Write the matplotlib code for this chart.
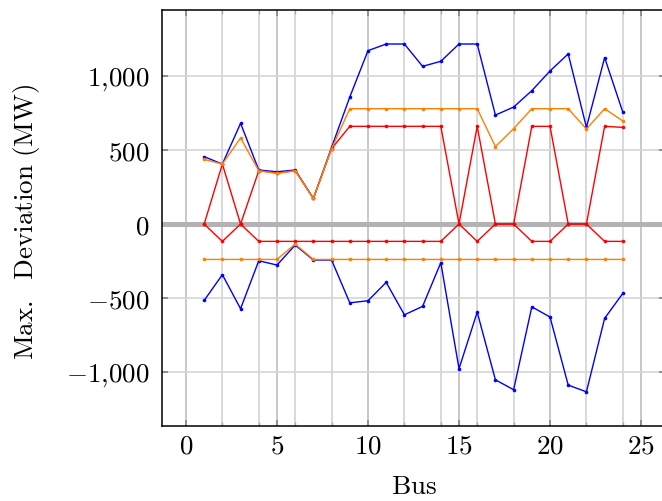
import matplotlib
matplotlib.use('Agg')
import matplotlib.pyplot as plt
from matplotlib.ticker import FixedLocator, FuncFormatter

plt.rcParams['mathtext.fontset'] = 'cm'
plt.rcParams['font.family'] = 'serif'
plt.rcParams['font.serif'] = ['DejaVu Serif']

bus = list(range(1, 25))
blue_upper = [455, 405, 680, 365, 353, 365, 173, 518, 858, 1171, 1216, 1216,
              1065, 1099, 1216, 1216, 736, 790, 901, 1034, 1149, 653, 1124, 755]
blue_lower = [-516, -342, -572, -248, -277, -142, -243, -243, -532, -518, -394, -613,
              -556, -261, -977, -595, -1052, -1119, -559, -628, -1088, -1133, -637, -468]
orange_upper = [437, 405, 581, 360, 342, 360, 173, 509, 779, 779, 779, 779,
                779, 779, 779, 779, 523, 644, 779, 779, 779, 642, 779, 696]
orange_lower = [-239, -239, -239, -239, -239, -135, -239, -239, -239, -239, -239, -239,
                -239, -239, -239, -239, -239, -239, -239, -239, -239, -239, -239, -239]
red_upper = [0, 405, 0, 360, 345, 360, 173, 509, 660, 660, 660, 660,
             660, 660, 0, 660, 0, 0, 660, 660, 0, 0, 660, 653]
red_lower = [0, -117, 0, -117, -117, -117, -117, -117, -117, -117, -117, -117,
             -117, -117, 0, -117, 0, 0, -117, -117, 0, 0, -117, -117]

major_x = [0, 5, 10, 15, 20, 25]
minor_x = [2, 4, 6, 8, 12, 14, 16, 18, 22, 24]
major_y = [-1000, -500, 0, 500, 1000]

W, H = 662, 501
fig = plt.figure(figsize=(W / 100, H / 100), dpi=100)
left_px, right_px, top_px, bot_px = 162.3, 664.7, 9.5, 426.0
ax = fig.add_axes([left_px / W, 1 - bot_px / H, (right_px - left_px) / W, (bot_px - top_px) / H])

ax.set_xlim(-1.3, 26.3)
ax.set_ylim(-1364, 1449)

blue = (0, 0, 1)
orange = (1, 0.5, 0)
red = (1, 0, 0)
kw = dict(lw=1.0, marker='o', ms=2.6, mew=0)
ax.plot(bus, blue_upper, color=blue, zorder=3, **kw)
ax.plot(bus, blue_lower, color=blue, zorder=3, **kw)
ax.plot(bus, red_upper, color=red, zorder=4, **kw)
ax.plot(bus, red_lower, color=red, zorder=4, **kw)
ax.plot(bus, orange_upper, color=orange, zorder=5, **kw)
ax.plot(bus, orange_lower, color=orange, zorder=5, **kw)

ax.axhline(0, color='#b3b3b3', lw=3.6, zorder=2)

ax.xaxis.set_major_locator(FixedLocator(major_x))
ax.xaxis.set_minor_locator(FixedLocator(minor_x))
ax.yaxis.set_major_locator(FixedLocator(major_y))

def fmt(v, pos):
    s = f"{int(round(v)):,}".replace(',', '{,}')
    return f"${s}$"

ax.xaxis.set_major_formatter(FuncFormatter(fmt))
ax.yaxis.set_major_formatter(FuncFormatter(fmt))

ax.grid(which='major', axis='x', color='#c4c4c4', lw=1.3, zorder=1)
ax.grid(which='minor', axis='x', color='#cfcfcf', lw=1.1, zorder=1)
ax.grid(which='major', axis='y', color='#d6d6d6', lw=1.2, zorder=1)
ax.set_axisbelow(True)

ax.tick_params(which='major', direction='in', length=4.5, width=1.3, color='#8a8a8a',
               top=True, right=True, labelsize=19.5)
ax.tick_params(which='minor', direction='in', length=3, width=1.0, color='#a8a8a8',
               top=True, bottom=True)
ax.tick_params(axis='x', which='major', pad=5)
ax.tick_params(axis='y', which='major', pad=9)

for sp in ax.spines.values():
    sp.set_linewidth(1.1)
    sp.set_color('black')

ax.set_xlabel(r'$\mathrm{Bus}$', fontsize=19.5)
ax.xaxis.set_label_coords(0.5, -(473 - bot_px) / (bot_px - top_px))
fig.text(27 / W, 1 - 222 / H, r'$\mathrm{Max.\ \ Deviation\ (MW)}$', fontsize=19.5,
         rotation=90, ha='center', va='center')

fig.savefig('out.png', dpi=100)
